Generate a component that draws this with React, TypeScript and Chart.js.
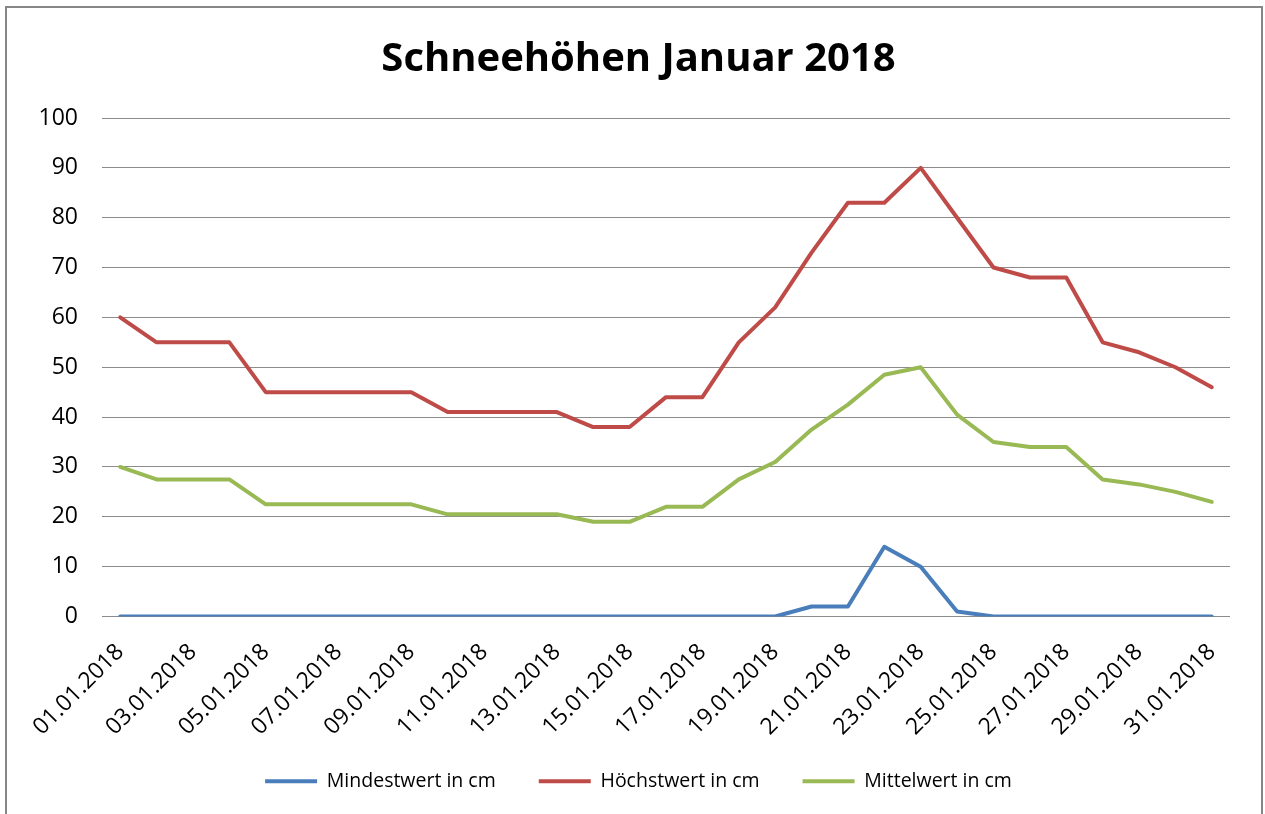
import React, { useEffect, useRef } from 'react';
import { Chart, registerables } from 'chart.js';

Chart.register(...registerables);

const chartTitle = 'Schneehöhen Januar 2018';

const dates = [
  '01.01.2018', '02.01.2018', '03.01.2018', '04.01.2018', '05.01.2018', '06.01.2018',
  '07.01.2018', '08.01.2018', '09.01.2018', '10.01.2018', '11.01.2018', '12.01.2018',
  '13.01.2018', '14.01.2018', '15.01.2018', '16.01.2018', '17.01.2018', '18.01.2018',
  '19.01.2018', '20.01.2018', '21.01.2018', '22.01.2018', '23.01.2018', '24.01.2018',
  '25.01.2018', '26.01.2018', '27.01.2018', '28.01.2018', '29.01.2018', '30.01.2018',
  '31.01.2018',
];

const minValues = [
  0, 0, 0, 0, 0, 0, 0, 0, 0, 0, 0, 0, 0, 0, 0, 0, 0, 0, 0, 2, 2, 14, 10, 1, 0, 0, 0, 0, 0, 0, 0,
];

const maxValues = [
  60, 55, 55, 55, 45, 45, 45, 45, 45, 41, 41, 41, 41, 38, 38, 44, 44, 55, 62, 73, 83, 83, 90, 80,
  70, 68, 68, 55, 53, 50, 46,
];

const meanValues = [
  30, 27.5, 27.5, 27.5, 22.5, 22.5, 22.5, 22.5, 22.5, 20.5, 20.5, 20.5, 20.5, 19, 19, 22, 22,
  27.5, 31, 37.5, 42.5, 48.5, 50, 40.5, 35, 34, 34, 27.5, 26.5, 25, 23,
];

const seriesNames = ['Mindestwert in cm', 'Höchstwert in cm', 'Mittelwert in cm'];
const seriesColors = ['#4A7EBB', '#BE4B48', '#98B954'];

const yMin = 0;
const yMax = 100;
const yStep = 10;

const FONT = '"Open Sans", "DejaVu Sans", sans-serif';

// let the rotated x labels extend below the axis box without being clipped
const unclipXLabels = {
  id: 'unclipXLabels',
  afterLayout(chart: any) {
    const x = chart.scales.x;
    if (x) x.bottom = chart.height;
  },
};

export default function App() {
  const canvasRef = useRef<HTMLCanvasElement | null>(null);

  useEffect(() => {
    if (!canvasRef.current) return;
    const series = [minValues, maxValues, meanValues];
    const chart = new Chart(canvasRef.current, {
      type: 'line',
      plugins: [unclipXLabels],
      data: {
        labels: dates,
        datasets: series.map((values, i) => ({
          label: seriesNames[i],
          data: values,
          borderColor: seriesColors[i],
          backgroundColor: seriesColors[i],
          borderWidth: 4,
          pointRadius: 0,
          pointHoverRadius: 0,
          tension: 0,
          borderCapStyle: 'round' as const,
          borderJoinStyle: 'round' as const,
          yAxisID: 'y',
        })),
      },
      options: {
        responsive: false,
        animation: false,
        devicePixelRatio: 1,
        layout: { padding: { left: 12, right: 0, top: 0, bottom: 13 } },
        plugins: {
          title: {
            display: true,
            text: chartTitle,
            color: '#000000',
            font: { family: FONT, size: 40, weight: 'bold' },
            padding: { top: 36, bottom: 34 },
          },
          legend: {
            display: true,
            position: 'bottom',
            labels: {
              color: '#000000',
              font: { family: FONT, size: 19.5 },
              boxWidth: 52,
              boxHeight: 4,
              padding: 43,
              generateLabels: (c: any) =>
                Chart.defaults.plugins.legend.labels
                  .generateLabels(c)
                  .map((item: any) => ({ ...item, lineWidth: 0, fillStyle: item.strokeStyle })),
            },
          },
          tooltip: { enabled: false },
        },
        scales: {
          x: {
            type: 'category',
            offset: true,
            grid: { display: false, drawTicks: false },
            border: { display: false },
            ticks: {
              autoSkip: false,
              minRotation: 45,
              maxRotation: 45,
              padding: 22,
              color: '#000000',
              font: { family: FONT, size: 23 },
              callback: (_v: any, index: number) => (index % 2 === 0 ? dates[index] : ''),
            },
            afterFit: (scale: any) => {
              scale.height = 112;
            },
          },
          y: {
            min: yMin,
            max: yMax,
            position: 'left',
            grid: { color: '#8c8c8c', lineWidth: 1, drawTicks: false },
            border: { display: false },
            ticks: {
              stepSize: yStep,
              padding: 24,
              color: '#000000',
              font: { family: FONT, size: 23 },
            },
            afterFit: (scale: any) => {
              scale.width = 90;
            },
          },
          yRightSpace: {
            type: 'linear',
            position: 'right',
            display: true,
            grid: { display: false, drawTicks: false },
            border: { display: false },
            ticks: { display: false },
            afterFit: (scale: any) => {
              scale.width = 35;
            },
          },
        },
      },
    });
    return () => chart.destroy();
  }, []);

  return (
    <div
      style={{
        position: 'absolute',
        left: 0,
        top: 0,
        width: 1265,
        height: 814,
        overflow: 'hidden',
        background: '#ffffff',
      }}
    >
      <div
        style={{
          position: 'absolute',
          left: 5,
          top: 6,
          width: 1254,
          height: 900,
          border: '2px solid #878787',
          pointerEvents: 'none',
        }}
      />
      <canvas
        ref={canvasRef}
        width={1265}
        height={814}
        style={{ position: 'absolute', left: 0, top: 0, width: 1265, height: 814 }}
      />
    </div>
  );
}
